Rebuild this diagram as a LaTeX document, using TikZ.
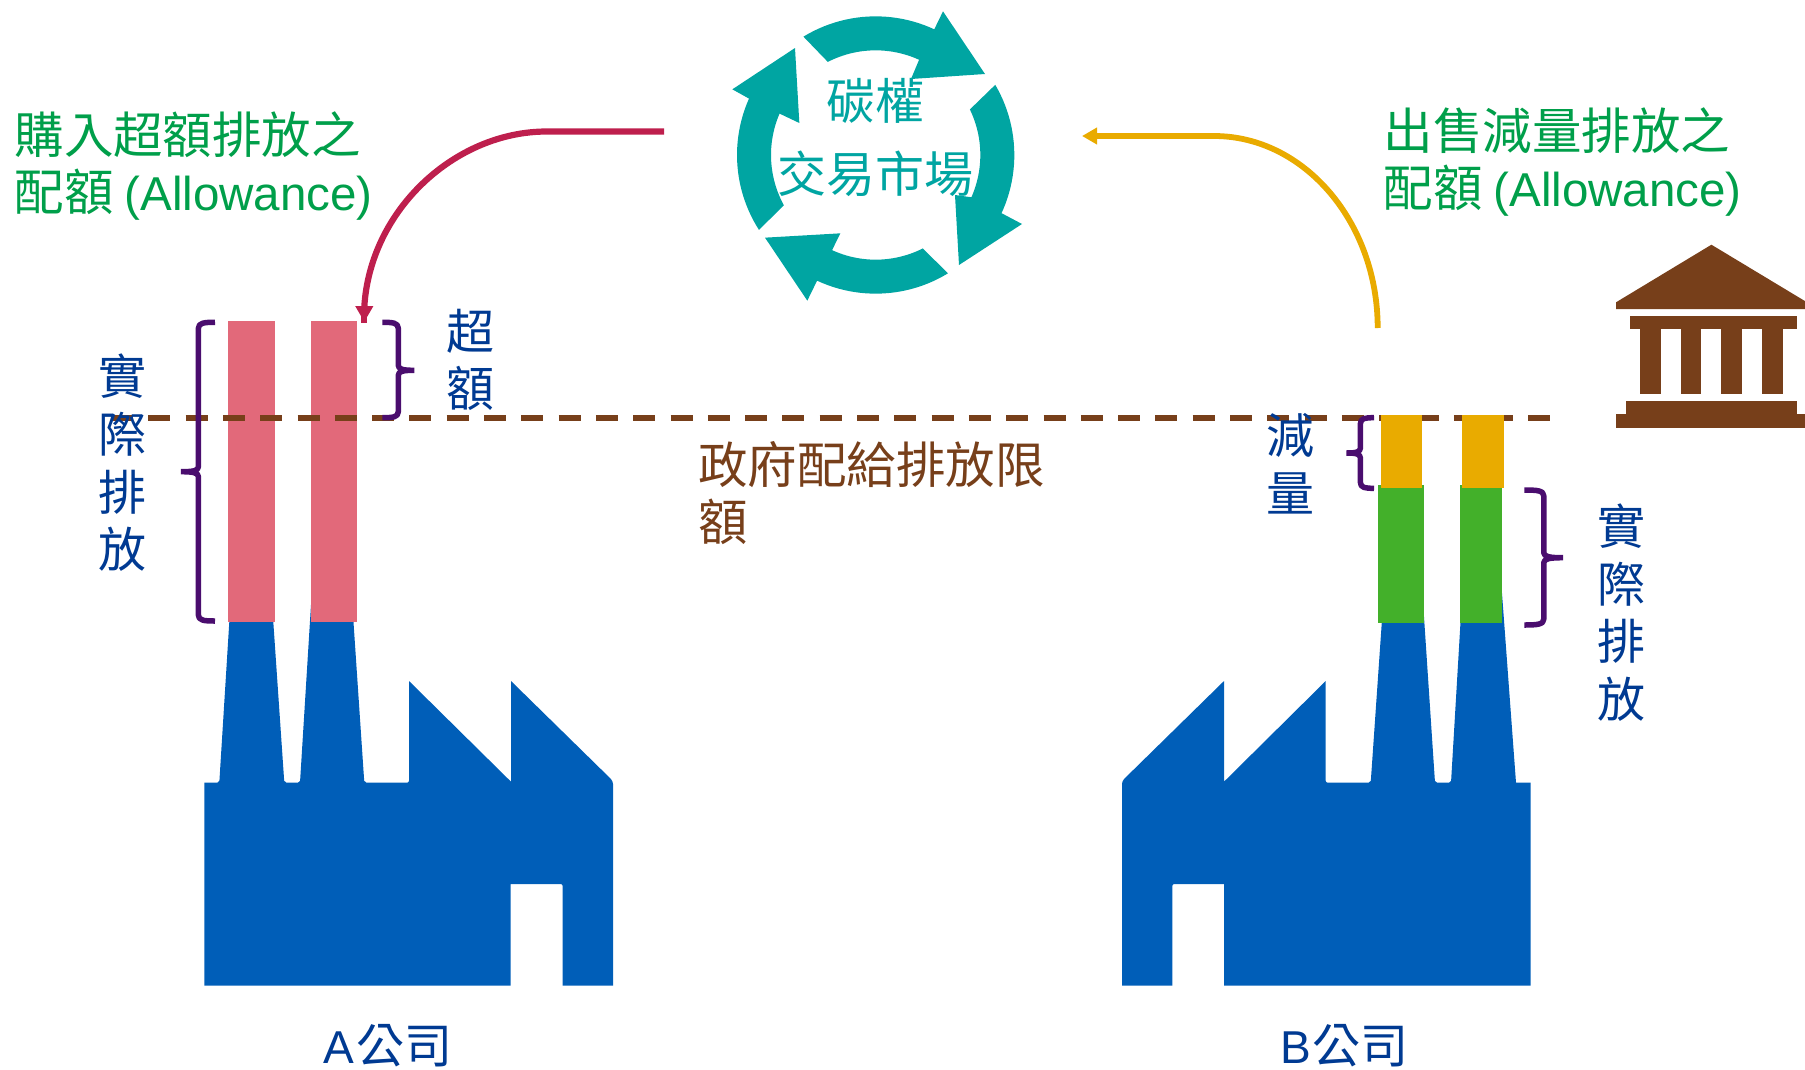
\documentclass[tikz,border=0pt]{standalone}
\usepackage{fontspec}
\setmainfont{Noto Sans CJK TC}
\newfontfamily\latn[Scale=0.96]{Liberation Sans}
\usetikzlibrary{arrows.meta}
\definecolor{factoryblue}{HTML}{005EB8}
\definecolor{pinkbar}{HTML}{E2697A}
\definecolor{greenbar}{HTML}{43B02A}
\definecolor{orangebar}{HTML}{E9AB00}
\definecolor{govbrown}{HTML}{773F1A}
\definecolor{bracepurple}{HTML}{4A0D6E}
\definecolor{ringteal}{HTML}{00A5A2}
\definecolor{buyred}{HTML}{BE1F4D}
\definecolor{labelblue}{HTML}{003A92}
\definecolor{labelgreen}{HTML}{009F4A}
\newcommand{\mybrace}[6]{% xvertical ytop ybottom xarm xtip ymid
  \draw[bracestyle]
    (#4,#2) .. controls ({#1+0.35*(#4-#1)},#2) and (#1,{#2+0.5}) .. (#1,{#2+6})
    -- (#1,{#6-5}) .. controls (#1,{#6-1}) and ({#1+0.3*(#5-#1)},#6) .. (#5,#6)
    (#5,#6) .. controls ({#1+0.3*(#5-#1)},#6) and (#1,{#6+1}) .. (#1,{#6+5})
    -- (#1,{#3-6}) .. controls (#1,{#3-0.5}) and ({#1+0.35*(#4-#1)},#3) .. (#4,#3);}
\tikzset{
  every node/.style={inner sep=0pt,outer sep=0pt},
  bracestyle/.style={draw=bracepurple,line width=5.5pt,line cap=butt,line join=round},
  lab/.style={font=\fontsize{49.5}{57}\selectfont,align=left},
  vlab/.style={font=\fontsize{48}{57.6}\selectfont,align=center,text=labelblue},
  company/.style={font=\fontsize{48}{48}\selectfont,text=labelblue},
  ringtext/.style={font=\fontsize{49}{49}\selectfont,text=ringteal},
}
\begin{document}
\begin{tikzpicture}[x=1pt,y=-1pt]
\useasboundingbox (0,0) rectangle (1805,1069);
\clip (0,0) rectangle (1805,1069);
% factory A
\fill[factoryblue] (204.3,782.7) -- (217,782.7) [rounded corners=2] -- (219.3,782.7) [sharp corners] -- (229.3,622) -- (273.3,622) [rounded corners=2] -- (284.3,782.7) -- (300,782.7) [sharp corners] -- (311.3,600) -- (352,600) [rounded corners=2] -- (364.3,782.7) -- (409,782.7) [sharp corners] -- (409,681) -- (511,781.7) -- (511,681) [rounded corners=3] -- (613,781) [sharp corners] -- (613,985.7) -- (562.7,985.7) [rounded corners=2] -- (562.7,884) [sharp corners] -- (510.7,884) -- (510.7,985.7) -- (204.3,985.7) -- cycle;
% factory B
\fill[factoryblue] (1530.7,782.7) -- (1516,782.7) [sharp corners] -- (1501,580) -- (1463,580) [rounded corners=2] -- (1451,782.7) -- (1435,782.7) [sharp corners] -- (1423.2,605) -- (1383,605) [rounded corners=2] -- (1370.7,782.7) -- (1325.7,782.7) [sharp corners] -- (1325.7,681) -- (1224,781.7) -- (1224,681) [rounded corners=3] -- (1122,781) [sharp corners] -- (1122,985.7) -- (1172.3,985.7) [rounded corners=2] -- (1172.3,884) [sharp corners] -- (1224,884) -- (1224,985.7) -- (1530.7,985.7) -- cycle;
% pink stacks
\fill[pinkbar] (228,321) rectangle (275,622.3);
\fill[pinkbar] (311.3,321) rectangle (356.7,622.3);
% green stacks
\fill[greenbar] (1378.4,485.3) rectangle (1423.8,622.7);
\fill[greenbar] (1460.2,485.3) rectangle (1502,622.7);
% government limit
\draw[govbrown,line width=6pt,dash pattern=on 22pt off 15.3pt] (111,418) -- (1551,418);
% orange stacks
\fill[orangebar] (1380.5,415.3) rectangle (1422,487.7);
\fill[orangebar] (1462.3,415.3) rectangle (1504.1,487.7);
% braces
\mybrace{198.4}{322.3}{621}{215}{181}{471.7}
\mybrace{398.3}{322.3}{417.7}{382.3}{414.3}{370.3}
\mybrace{1360.4}{417.7}{488.3}{1374}{1346.3}{453}
\mybrace{1543.8}{490}{625}{1524.3}{1563.2}{557.7}
% ring
\begin{scope}[shift={(700,0)},x=0.33333pt,y=-0.33333pt]
\fill[ringteal] plot[domain=-121.4:-65,samples=25] ({527+416*cos(\x)},{465+416*sin(\x)}) -- (729,34) -- (855,222) -- (633,237) -- (657,180) -- plot[domain=-65.5:-117.2,samples=25] ({527+314*cos(\x)},{465+314*sin(\x)}) -- cycle;
\fill[ringteal] plot[domain=-30.4:24.8,samples=25] ({527+416*cos(\x)},{465+416*sin(\x)}) -- (966,672) -- (777,795) -- (765,585) -- (816,592) -- plot[domain=23.7:-25.8,samples=25] ({527+314*cos(\x)},{465+314*sin(\x)}) -- cycle;
\fill[ringteal] plot[domain=58.6:115,samples=25] ({527+416*cos(\x)},{465+416*sin(\x)}) -- (322,902) -- (195,713) -- (421,700) -- (396,751) -- plot[domain=114.6:63.2,samples=25] ({527+314*cos(\x)},{465+314*sin(\x)}) -- cycle;
\fill[ringteal] plot[domain=147.3:204,samples=25] ({527+416*cos(\x)},{465+416*sin(\x)}) -- (97,268) -- (285,144) -- (298,369) -- (239,341) -- plot[domain=203.3:151.3,samples=25] ({527+314*cos(\x)},{465+314*sin(\x)}) -- cycle;
\end{scope}
% government building
\fill[govbrown] (1711.4,244.7) -- (1616,302.3) -- (1616,309) -- (1807,309) -- (1807,302.3) -- cycle;
\fill[govbrown] (1629.9,315.7) rectangle (1796.8,329.3);
\foreach \cx in {1640,1680.7,1721.4,1762.2}{\fill[govbrown] (\cx,329) rectangle ({\cx+20.5},393.7);}
\fill[govbrown] (1626.3,400.7) rectangle (1796.8,414.5);
\fill[govbrown] (1616,414) rectangle (1807,427.7);
% labels
\node[ringtext] (carbon) at (875.5,101) {碳權};
\node[ringtext] (market) at (875.5,173.5) {交易市場};
\node[lab,text=labelgreen,anchor=north west] (buy) at (14.5,112) {購入超額排放之\\配額 {\latn(Allowance)}};
\node[lab,text=labelgreen,anchor=north west] (sell) at (1383.5,108) {出售減量排放之\\配額 {\latn(Allowance)}};
\node[lab,text=govbrown,anchor=north west] (limit) at (698,441.5) {政府配給排放限\\額};
\node[vlab] (actA) at (122.5,463) {實\\際\\排\\放};
\node[vlab] (over) at (470,360) {超\\額};
\node[vlab] (cut) at (1290,463.5) {減\\量};
\node[vlab] (actB) at (1621.5,612.5) {實\\際\\排\\放};
\node[company] (compA) at (388,1046) {{\latn A}\hspace{2pt}公司};
\node[company] (compB) at (1344.5,1046) {{\latn B}\hspace{1pt}公司};
% connectors
\coordinate (redstart) at (664,131.5);
\coordinate (redend) at (364.3,322);
\coordinate (orangestart) at (1377.7,328);
\coordinate (orangeend) at (1082,136);
\draw[buyred,line width=6.2pt,-{Triangle[length=16pt,width=17pt]}] (redstart) -- (546.7,131.5) .. controls (455,131.5) and (370,210) .. (364.3,307) -- (redend);
\draw[buyred,line width=6.2pt] (364.3,308) -- (364.3,322.7);
\draw[orangebar,line width=5.8pt,-{Triangle[length=15pt,width=16pt]}] (orangestart) .. controls (1377.7,222) and (1304,136) .. (1214,136) -- (orangeend);
\end{tikzpicture}
\end{document}
